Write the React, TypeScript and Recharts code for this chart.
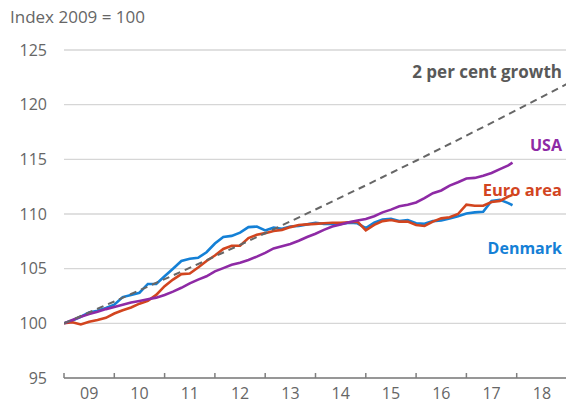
import { CartesianGrid, Line, LineChart, ReferenceDot, XAxis, YAxis } from 'recharts';

// Month offsets from January 2009 (every second month, last point December 2017)
const monthIndex = [
  0, 2, 4, 6, 8, 10, 12, 14, 16, 18, 20, 22, 24, 26, 28, 30, 32, 34, 36, 38, 40, 42, 44, 46, 48, 50,
  52, 54, 56, 58, 60, 62, 64, 66, 68, 70, 72, 74, 76, 78, 80, 82, 84, 86, 88, 90, 92, 94, 96, 98,
  100, 102, 104, 106, 107,
];

const denmark = [
  100.0, 100.25, 100.6, 101.0, 101.15, 101.4, 101.7, 102.4, 102.6, 102.8,
  103.6, 103.6, 104.3, 105.0, 105.7, 105.9, 106.0, 106.5, 107.3, 107.9,
  108.0, 108.3, 108.8, 108.85, 108.5, 108.75, 108.65, 108.85, 108.9, 109.05,
  109.2, 109.1, 109.1, 109.1, 109.2, 109.15, 108.7, 109.2, 109.5, 109.55,
  109.35, 109.45, 109.15, 109.1, 109.35, 109.4, 109.6, 109.8, 110.05, 110.15,
  110.2, 111.2, 111.3, 111.0, 110.8,
];

const euroArea = [
  100.0, 100.1, 99.9, 100.15, 100.3, 100.5, 100.9, 101.2, 101.45, 101.8,
  102.05, 102.6, 103.4, 104.0, 104.5, 104.55, 105.1, 105.7, 106.2, 106.8,
  107.1, 107.1, 107.8, 108.1, 108.25, 108.45, 108.55, 108.8, 109.0, 109.05,
  109.1, 109.15, 109.2, 109.2, 109.25, 109.3, 108.5, 109.0, 109.35, 109.45,
  109.3, 109.3, 109.0, 108.9, 109.3, 109.6, 109.7, 110.0, 110.85, 110.75,
  110.75, 111.1, 111.2, 111.6, 111.75,
];

const usa = [
  100.0, 100.3, 100.6, 100.85, 101.05, 101.3, 101.5, 101.7, 101.9, 102.05,
  102.2, 102.35, 102.6, 102.9, 103.25, 103.65, 104.0, 104.3, 104.75, 105.05,
  105.35, 105.55, 105.8, 106.1, 106.45, 106.85, 107.05, 107.25, 107.55, 107.9,
  108.2, 108.55, 108.85, 109.05, 109.25, 109.4, 109.55, 109.8, 110.15, 110.4,
  110.7, 110.85, 111.05, 111.45, 111.9, 112.15, 112.6, 112.9, 113.25, 113.3,
  113.5, 113.75, 114.1, 114.45, 114.7,
];

// 2 per cent annual growth path
const growthYears = [2009, 2010, 2011, 2012, 2013, 2014, 2015, 2016, 2017, 2018, 2019];
const growthValues = [100, 102, 104.04, 106.12, 108.24, 110.41, 112.62, 114.87, 117.17, 119.51, 121.9];

const yearTicks = [2009, 2010, 2011, 2012, 2013, 2014, 2015, 2016, 2017, 2018];
const yearLabels = ['09', '10', '11', '12', '13', '14', '15', '16', '17', '18'];
const yTicks = [95, 100, 105, 110, 115, 120, 125];

const seriesData = monthIndex.map((m, i) => ({
  t: 2009 + m / 12,
  denmark: denmark[i],
  euro: euroArea[i],
  usa: usa[i],
}));
const growthData = growthYears.map((t, i) => ({ t, growth: growthValues[i] }));

const FONT = '"Open Sans", sans-serif';
const BLUE = '#1480d6';
const RED = '#d2451f';
const PURPLE = '#8e2aa5';
const GREY = '#666666';

// labels sit in the middle of each year, tick marks on the year boundaries
function YearTick(props: any) {
  const { x, y, index } = props;
  return (
    <text
      x={x + 25.2}
      y={y}
      dy="0.71em"
      textAnchor="middle"
      fill="#666"
      fontSize={16}
      fontFamily={FONT}
    >
      {yearLabels[index]}
    </text>
  );
}

function seriesLabel(value: string, color: string, size = 16) {
  return {
    value,
    position: 'left' as const,
    offset: 0,
    fill: color,
    fontSize: size,
    fontWeight: 700,
    fontFamily: FONT,
  };
}

export default function App() {
  return (
    <div
      style={{
        position: 'absolute',
        left: 0,
        top: 0,
        width: 566,
        height: 403,
        overflow: 'hidden',
        background: '#fff',
        fontFamily: FONT,
      }}
    >
      <div
        style={{
          position: 'absolute',
          left: 10,
          top: 6,
          fontSize: 17,
          lineHeight: '22px',
          color: '#666',
          whiteSpace: 'nowrap',
        }}
      >
        Index 2009 = 100
      </div>
      <LineChart
        width={600}
        height={403}
        margin={{ top: 50, right: 33, bottom: 0, left: 0 }}
        style={{ position: 'absolute', left: 0, top: 0 }}
      >
        <CartesianGrid vertical={false} stroke="#d6d6d6" strokeWidth={1.3} />
        <XAxis
          dataKey="t"
          type="number"
          domain={[2009, 2019]}
          ticks={yearTicks}
          allowDataOverflow
          height={25}
          tickSize={-5}
          tickMargin={15}
          tick={<YearTick />}
          axisLine={{ stroke: '#7f7f7f', strokeWidth: 1.5 }}
          tickLine={{ stroke: '#7f7f7f', strokeWidth: 1.5 }}
        />
        <YAxis
          type="number"
          domain={[95, 125]}
          ticks={yTicks}
          width={64}
          axisLine={false}
          tickLine={false}
          tickSize={0}
          tickMargin={17}
          tick={{ fill: '#666', fontSize: 16, fontFamily: FONT }}
        />
        <Line
          data={seriesData}
          dataKey="denmark"
          stroke={BLUE}
          strokeWidth={2.6}
          dot={false}
          isAnimationActive={false}
        />
        <Line
          data={seriesData}
          dataKey="euro"
          stroke={RED}
          strokeWidth={2.6}
          dot={false}
          isAnimationActive={false}
        />
        <Line
          data={seriesData}
          dataKey="usa"
          stroke={PURPLE}
          strokeWidth={2.6}
          dot={false}
          isAnimationActive={false}
        />
        <Line
          data={growthData}
          dataKey="growth"
          stroke={GREY}
          strokeWidth={2}
          strokeDasharray="7 5"
          dot={false}
          isAnimationActive={false}
        />
        <ReferenceDot x={2018.9} y={122.97} r={0} label={seriesLabel('2 per cent growth', '#595959', 17)} />
        <ReferenceDot x={2018.9} y={116.3} r={0} label={seriesLabel('USA', PURPLE)} />
        <ReferenceDot x={2018.9} y={112.17} r={0} label={seriesLabel('Euro area', RED, 16.5)} />
        <ReferenceDot x={2018.9} y={106.87} r={0} label={seriesLabel('Denmark', BLUE)} />
      </LineChart>
    </div>
  );
}
